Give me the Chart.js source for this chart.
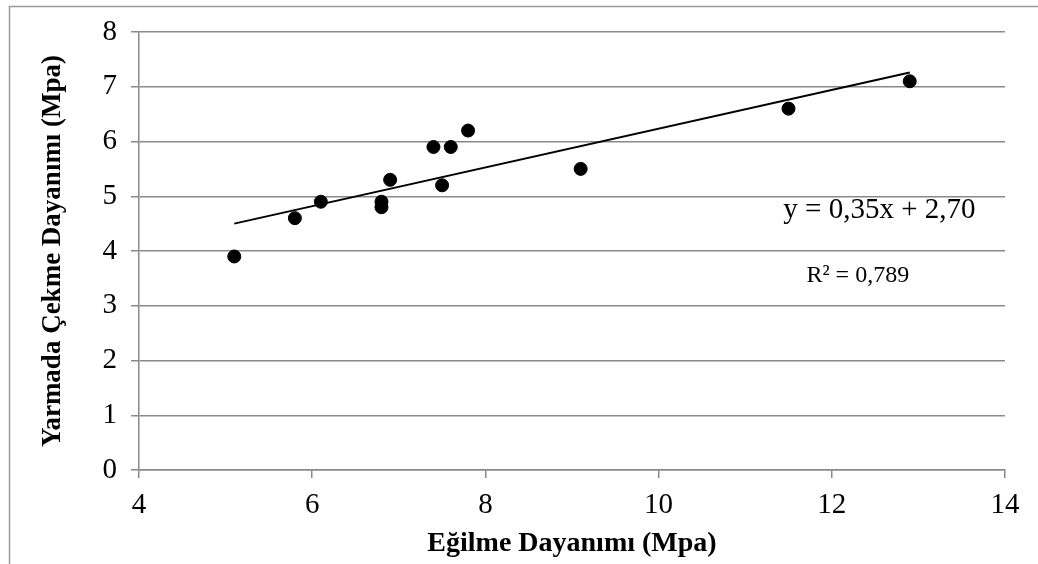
<!DOCTYPE html>
<html>
<head>
<meta charset="utf-8">
<script src="https://cdn.jsdelivr.net/npm/chart.js@4.4.1/dist/chart.umd.min.js"></script>
<style>
  html, body { margin: 0; padding: 0; background: #fff; }
  canvas { display: block; }
</style>
</head>
<body>
<canvas id="chart" width="1038" height="564"></canvas>
<script>
// measured values (Mpa)
const egilme = [5.1, 5.8, 6.1, 6.8, 6.8, 6.9, 7.4, 7.6, 7.5, 7.8, 9.1, 11.5, 12.9];
const yarmada = [3.9, 4.6, 4.9, 4.9, 4.8, 5.3, 5.9, 5.9, 5.2, 6.2, 5.5, 6.6, 7.1];

// trend line ends as drawn
const trendX = [5.1, 12.9];
const trendY = [4.5, 7.26];

// equation labels and where they sit (data units)
const noteText = ["y = 0,35x + 2,70", "R² = 0,789"];
const noteX = [12.55, 12.3];
const noteY = [4.74, 3.55];
const noteSize = [29, 24];

const xTitle = "Eğilme Dayanımı (Mpa)";
const yTitle = "Yarmada Çekme Dayanımı (Mpa)";

const serif = "'Liberation Serif', 'Times New Roman', serif";
const gridColor = "#898989";

const points = egilme.map((x, i) => ({ x: x, y: yarmada[i] }));
const trend = trendX.map((x, i) => ({ x: x, y: trendY[i] }));

const frame = {
  id: "frame",
  beforeDraw(chart) {
    const ctx = chart.ctx;
    ctx.save();
    ctx.fillStyle = "#fff";
    ctx.fillRect(0, 0, chart.width, chart.height);
    ctx.strokeStyle = "#9a9a9a";
    ctx.lineWidth = 1.5;
    ctx.strokeRect(9.5, 6.5, 1200, 1200);
    ctx.restore();
  }
};

const notes = {
  id: "notes",
  afterDatasetsDraw(chart) {
    const ctx = chart.ctx;
    const xs = chart.scales.x, ys = chart.scales.y;
    ctx.save();
    ctx.fillStyle = "#000";
    ctx.textAlign = "center";
    ctx.textBaseline = "middle";
    noteText.forEach((t, i) => {
      ctx.font = noteSize[i] + "px " + serif;
      ctx.fillText(t, xs.getPixelForValue(noteX[i]), ys.getPixelForValue(noteY[i]));
    });
    ctx.restore();
  }
};

new Chart(document.getElementById("chart"), {
  type: "scatter",
  data: {
    datasets: [
      {
        label: "trend",
        data: trend,
        showLine: true,
        borderColor: "#000",
        borderWidth: 2,
        pointRadius: 0,
        fill: false
      },
      {
        label: "points",
        data: points,
        backgroundColor: "#000",
        borderColor: "#000",
        pointRadius: 6.5,
        pointHoverRadius: 6.5
      }
    ]
  },
  options: {
    responsive: false,
    animation: false,
    layout: { padding: { left: 0, top: 32, right: 33, bottom: 0 } },
    plugins: {
      legend: { display: false },
      tooltip: { enabled: false }
    },
    scales: {
      x: {
        type: "linear",
        min: 4,
        max: 14,
        afterFit: s => { s.height = 94; },
        ticks: {
          stepSize: 2,
          color: "#000",
          padding: 10,
          font: { family: serif, size: 29 }
        },
        grid: {
          drawOnChartArea: false,
          drawTicks: true,
          tickLength: 8,
          color: gridColor,
          lineWidth: 1.5
        },
        border: { color: gridColor, width: 1.5 },
        title: {
          display: true,
          text: xTitle,
          color: "#000",
          padding: { top: 0, bottom: 3 },
          font: { family: serif, size: 28, weight: "bold" }
        }
      },
      y: {
        min: 0,
        max: 8,
        afterFit: s => { s.width = 139; },
        ticks: {
          stepSize: 1,
          color: "#000",
          padding: 14,
          font: { family: serif, size: 29 }
        },
        grid: {
          tickLength: 8,
          color: gridColor,
          lineWidth: 1.5
        },
        border: { color: gridColor, width: 1.5 },
        title: {
          display: true,
          text: yTitle,
          color: "#000",
          padding: { top: 37, bottom: 0 },
          font: { family: serif, size: 27, weight: "bold" }
        }
      }
    }
  },
  plugins: [frame, notes]
});
</script>
</body>
</html>
